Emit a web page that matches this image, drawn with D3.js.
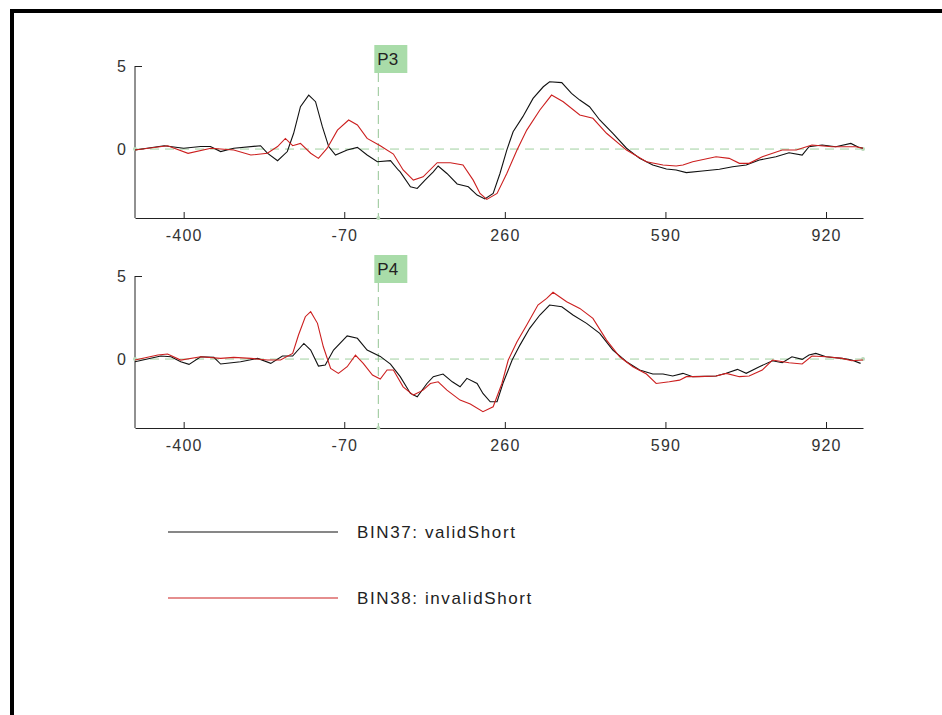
<!DOCTYPE html>
<html>
<head>
<meta charset="utf-8">
<script src="https://cdn.jsdelivr.net/npm/d3@7"></script>
<style>
  html, body { margin: 0; padding: 0; background: #fff; }
  svg { display: block; }
  text { font-family: "Liberation Sans", Arial, sans-serif; }
</style>
</head>
<body>
<svg id="chart" width="942" height="715"></svg>
<script>
// Time window (ms) and amplitude range (µV)
const timeDomain = [-500, 996];
const ampDomain = [-4.15, 5];
const xTicks = [-400, -70, 260, 590, 920];
const yTicks = [0, 5];
const channels = ["P3", "P4"];
const binNames = ["BIN37: validShort", "BIN38: invalidShort"];
const binColors = ["#111111", "#cc1f1f"];

// [time ms, amplitude µV]
const p3Valid = [
  [-500, -0.06], [-440, 0.2], [-400, 0.05], [-365, 0.15], [-345, 0.15], [-324, -0.15],
  [-297, 0.05], [-242, 0.2], [-228, -0.25], [-207, -0.7], [-187, -0.15], [-174, 0.95],
  [-160, 2.55], [-143, 3.25], [-129, 2.85], [-115, 1.35], [-102, 0.15], [-88, -0.36],
  [-64, -0.06], [-43, 0.1], [-23, -0.36], [-2, -0.76], [25, -0.7], [41, -1.26],
  [45, -1.37], [66, -2.27], [80, -2.37], [96, -1.87], [113, -1.37], [123, -1.02],
  [141, -1.47], [162, -2.1], [185, -2.27], [203, -2.77], [219, -3.0], [236, -2.67],
  [250, -1.47], [264, -0.06], [277, 1.04], [297, 1.95], [318, 3.05], [339, 3.75],
  [352, 4.05], [377, 4.0], [397, 3.35], [414, 2.95], [434, 2.55], [455, 1.75],
  [482, 0.95], [510, 0.05], [537, -0.56], [564, -0.96], [592, -1.2], [612, -1.26],
  [633, -1.42], [666, -1.32], [701, -1.22], [728, -1.06], [756, -0.96], [783, -0.66],
  [817, -0.46], [844, -0.22], [871, -0.36], [885, 0.14], [912, 0.24], [940, 0.14],
  [971, 0.34], [988, 0.1], [996, 0.05]
];
const p3Invalid = [
  [-500, -0.06], [-433, 0.2], [-391, -0.26], [-344, 0.05], [-297, -0.06], [-262, -0.36],
  [-228, -0.25], [-207, 0.15], [-191, 0.64], [-176, 0.2], [-160, 0.34], [-139, -0.25],
  [-123, -0.56], [-105, 0.05], [-84, 1.14], [-61, 1.75], [-43, 1.45], [-23, 0.64],
  [4, 0.2], [31, -0.3], [51, -1.26], [72, -1.87], [92, -1.67], [121, -0.82],
  [148, -0.82], [174, -0.96], [195, -1.87], [209, -2.67], [223, -3.03], [244, -2.67],
  [264, -1.47], [285, -0.06], [305, 1.14], [332, 2.35], [356, 3.25], [380, 2.85],
  [414, 2.05], [441, 1.85], [469, 0.95], [510, -0.06], [551, -0.76], [585, -0.96],
  [612, -1.02], [626, -0.96], [646, -0.76], [694, -0.46], [721, -0.56], [742, -0.86],
  [762, -0.86], [789, -0.46], [830, -0.06], [859, -0.06], [891, 0.24], [932, 0.14],
  [981, 0.14], [996, 0.05]
];
const p4Valid = [
  [-500, -0.16], [-447, 0.18], [-426, 0.14], [-406, -0.16], [-389, -0.32], [-365, 0.14],
  [-338, 0.1], [-324, -0.3], [-283, -0.16], [-248, 0.04], [-221, -0.26], [-197, 0.18],
  [-176, 0.18], [-153, 0.94], [-139, 0.54], [-123, -0.42], [-109, -0.36], [-92, 0.54],
  [-64, 1.39], [-43, 1.25], [-23, 0.54], [4, 0.16], [25, -0.3], [45, -1.06],
  [66, -2.07], [80, -2.27], [100, -1.47], [113, -1.06], [133, -0.9], [152, -1.37],
  [168, -1.67], [182, -1.16], [203, -1.47], [215, -2.07], [230, -2.57], [244, -2.57],
  [256, -1.47], [275, -0.06], [291, 0.84], [311, 1.85], [332, 2.65], [352, 3.25],
  [377, 3.15], [400, 2.65], [428, 2.15], [455, 1.55], [482, 0.54], [510, -0.16],
  [537, -0.66], [564, -0.9], [585, -0.9], [605, -1.02], [626, -0.86], [646, -1.06],
  [694, -1.02], [715, -0.86], [738, -0.62], [756, -0.86], [783, -0.46], [810, -0.1],
  [830, -0.22], [850, 0.14], [871, -0.02], [885, 0.24], [899, 0.34], [920, 0.14],
  [953, 0.04], [973, -0.06], [991, -0.26]
];
const p4Invalid = [
  [-500, -0.06], [-453, 0.24], [-433, 0.3], [-406, -0.06], [-365, 0.14], [-324, 0.04],
  [-297, 0.1], [-262, 0.04], [-228, -0.06], [-201, -0.06], [-176, 0.34], [-164, 1.45],
  [-150, 2.55], [-139, 2.85], [-125, 2.15], [-113, 0.74], [-98, -0.56], [-82, -0.86],
  [-64, -0.46], [-47, 0.24], [-31, -0.26], [-12, -0.96], [4, -1.2], [18, -0.66],
  [31, -0.66], [51, -1.67], [72, -2.17], [92, -1.87], [107, -1.47], [123, -1.37],
  [141, -1.87], [168, -2.47], [189, -2.71], [215, -3.17], [236, -2.87], [254, -1.47],
  [267, -0.06], [285, 1.04], [305, 2.05], [328, 3.25], [346, 3.65], [359, 4.02],
  [387, 3.45], [414, 3.05], [441, 2.45], [469, 1.14], [496, 0.14], [523, -0.46],
  [551, -0.9], [571, -1.47], [598, -1.37], [619, -1.27], [633, -1.06], [660, -1.06],
  [694, -1.02], [715, -0.86], [742, -1.06], [762, -1.02], [789, -0.66], [810, -0.06],
  [844, -0.22], [871, -0.3], [891, 0.18], [920, 0.14], [953, 0.04], [973, -0.1],
  [996, -0.06]
];

const panelSeries = [[p3Valid, p3Invalid], [p4Valid, p4Invalid]];

const svg = d3.select("#chart");

// Outer frame
svg.append("rect")
  .attr("x", 12).attr("y", 11)
  .attr("width", 960).attr("height", 740)
  .attr("fill", "none").attr("stroke", "#000").attr("stroke-width", 4);

const x = d3.scaleLinear().domain(timeDomain).range([135, 863]);
const plain = d => String(d);

channels.forEach((name, i) => {
  const top = 66 + i * 210, bottom = 218 + i * 210;
  const y = d3.scaleLinear().domain(ampDomain).range([bottom, top]);
  const g = svg.append("g");

  // Zero reference line
  g.append("line")
    .attr("x1", x(timeDomain[0])).attr("x2", x(timeDomain[1]))
    .attr("y1", y(0)).attr("y2", y(0))
    .attr("stroke", "#9fd09f").attr("stroke-width", 1)
    .attr("stroke-dasharray", "9,6");

  // Stimulus onset line
  g.append("line")
    .attr("x1", x(0)).attr("x2", x(0))
    .attr("y1", top + 7).attr("y2", bottom)
    .attr("stroke", "#93c493").attr("stroke-width", 1)
    .attr("stroke-dasharray", "9,5");

  // Channel label
  g.append("rect")
    .attr("x", x(0) - 4).attr("y", top - 21)
    .attr("width", 33).attr("height", 28)
    .attr("fill", "#a9dca9");
  g.append("text")
    .attr("x", x(0) - 1).attr("y", top - 1)
    .attr("font-size", 17).attr("fill", "#222")
    .text(name);

  // Axes
  const xAxis = d3.axisBottom(x).tickValues(xTicks).tickFormat(plain)
    .tickSize(-6).tickSizeOuter(0).tickPadding(12);
  const gx = g.append("g").attr("transform", `translate(0,${bottom})`).call(xAxis);
  gx.select(".domain").attr("stroke", "#222");
  gx.selectAll(".tick line").attr("stroke", "#222");
  gx.selectAll(".tick text").attr("font-size", 16).attr("fill", "#333")
    .attr("letter-spacing", 1.2)
    .attr("font-family", "'Liberation Sans', Arial, sans-serif");

  const yAxis = d3.axisLeft(y).tickValues(yTicks).tickFormat(plain)
    .tickSize(-7).tickSizeOuter(0).tickPadding(9);
  const gy = g.append("g").attr("transform", `translate(${x(timeDomain[0])},0)`).call(yAxis);
  gy.select(".domain").attr("stroke", "#222").attr("d", `M0,${y(5)}V${bottom}`);
  gy.selectAll(".tick line").attr("stroke", d => d === 0 ? "none" : "#222");
  gy.selectAll(".tick text").attr("font-size", 16).attr("fill", "#333")
    .attr("font-family", "'Liberation Sans', Arial, sans-serif");

  // Reference markers
  [[x(timeDomain[0]), y(0)], [x(timeDomain[1]), y(0)], [x(0), bottom]].forEach(([cx, cy]) => {
    g.append("circle").attr("cx", cx).attr("cy", cy).attr("r", 2).attr("fill", "#b9d9b9");
  });

  // Waveforms
  const line = d3.line().x(d => x(d[0])).y(d => y(d[1]));
  panelSeries[i].forEach((data, k) => {
    g.append("path")
      .datum(data)
      .attr("d", line)
      .attr("fill", "none")
      .attr("stroke", binColors[k])
      .attr("stroke-width", 1.1);
  });
});

// Legend
const legend = svg.append("g");
binNames.forEach((label, k) => {
  const ly = 532 + k * 66;
  legend.append("line")
    .attr("x1", 168).attr("x2", 338).attr("y1", ly).attr("y2", ly)
    .attr("stroke", binColors[k]).attr("stroke-width", 1.2);
  legend.append("text")
    .attr("x", 357).attr("y", ly + 6)
    .attr("font-size", 17).attr("fill", "#222")
    .attr("letter-spacing", 1.6)
    .text(label);
});
</script>
</body>
</html>
